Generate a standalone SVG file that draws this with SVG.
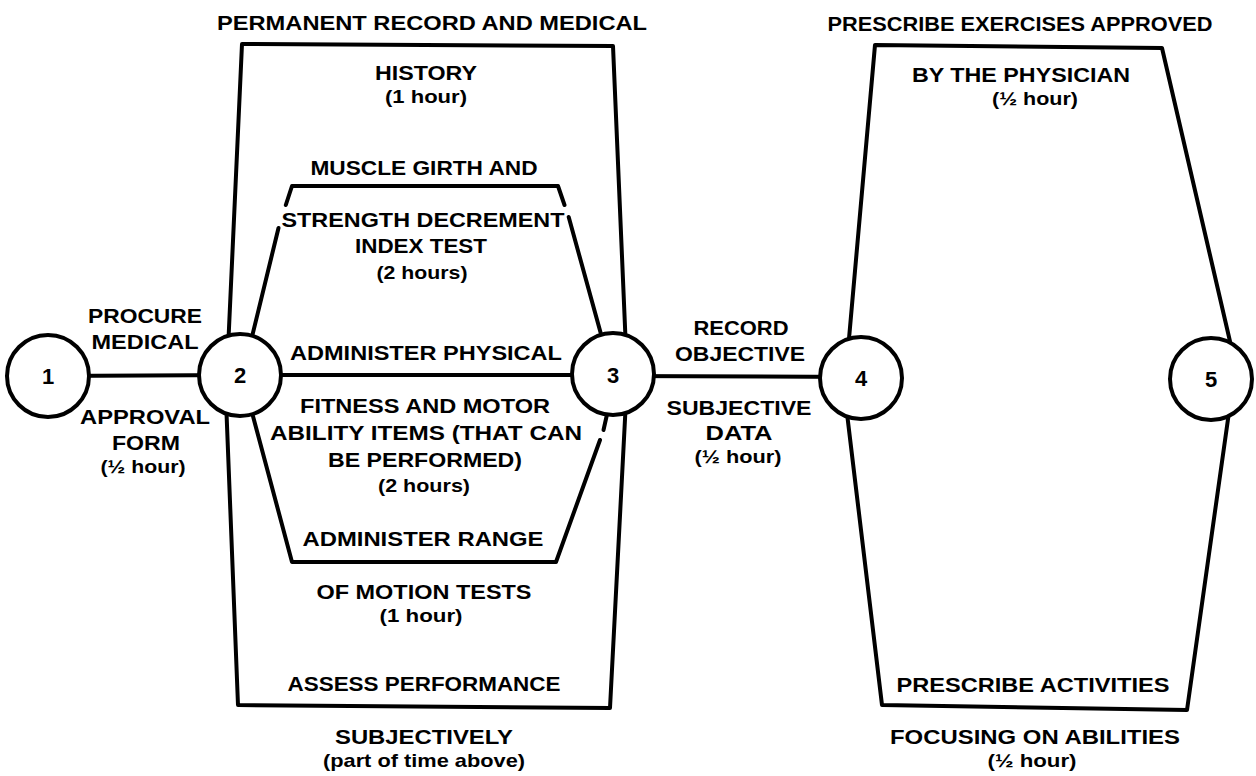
<svg xmlns="http://www.w3.org/2000/svg" width="1256" height="776" viewBox="0 0 1256 776">
  <style>
    .ln { fill: none; stroke: #000; stroke-width: 4; stroke-linejoin: round; stroke-linecap: round; }
    .node circle { fill: #fff; stroke: #000; stroke-width: 4; }
    .t { font-family: "Liberation Sans", Arial, sans-serif; font-weight: bold; font-size: 21px; fill: #000; text-anchor: middle; }
    .p { font-family: "Liberation Sans", Arial, sans-serif; font-weight: bold; font-size: 19px; fill: #000; text-anchor: middle; }
    .n { font-family: "Liberation Sans", Arial, sans-serif; font-weight: bold; font-size: 22px; fill: #000; text-anchor: middle; }
  </style>
  <rect width="1256" height="776" fill="#fff"/>

  <!-- activity arrows between events -->
  <g id="connectors">
    <!-- 1 to 2 -->
    <line class="ln" x1="48" y1="376" x2="240" y2="375"/>
    <!-- 2 to 3, direct -->
    <line class="ln" x1="240" y1="375" x2="613" y2="375"/>
    <!-- 3 to 4 -->
    <line class="ln" x1="613" y1="376" x2="861" y2="377"/>
    <!-- 2 to 3, outer upper path -->
    <path class="ln" d="M228 350 L242 44 L613 46 L626 350"/>
    <!-- 2 to 3, outer lower path -->
    <path class="ln" d="M226 400 L238 705 L610 708 L626 400"/>
    <!-- 2 to 3, inner upper path (broken round the text) -->
    <path class="ln" d="M250 345 L278.5 228"/>
    <path class="ln" d="M285.8 205 L292 186 L558 186 L564.5 205"/>
    <path class="ln" d="M568.7 217 L604 345"/>
    <!-- 2 to 3, inner lower path -->
    <path class="ln" d="M250 405 L292 562 L556 562 L600 440"/>
    <path class="ln" d="M603.5 430 L608 410"/>
    <!-- 4 to 5, upper path -->
    <path class="ln" d="M848 350 L875 45 L1162 48 L1232 350"/>
    <!-- 4 to 5, lower path -->
    <path class="ln" d="M846 405 L882 705 L1187 710 L1230 405"/>
  </g>

  <!-- events -->
  <g id="node1" class="node">
    <circle cx="48" cy="376" r="41"/>
    <text class="n" x="48" y="384">1</text>
  </g>
  <g id="node2" class="node">
    <circle cx="240" cy="375" r="41"/>
    <text class="n" x="240" y="383">2</text>
  </g>
  <g id="node3" class="node">
    <circle cx="613" cy="374" r="41"/>
    <text class="n" x="613" y="383">3</text>
  </g>
  <g id="node4" class="node">
    <circle cx="861" cy="378" r="41"/>
    <text class="n" x="861" y="386">4</text>
  </g>
  <g id="node5" class="node">
    <circle cx="1211" cy="379" r="41"/>
    <text class="n" x="1211" y="387">5</text>
  </g>

  <!-- activity labels -->
  <g id="label-procure">
    <text class="t" x="145" y="323" textLength="114" lengthAdjust="spacingAndGlyphs">PROCURE</text>
    <text class="t" x="145" y="349" textLength="107" lengthAdjust="spacingAndGlyphs">MEDICAL</text>
    <text class="t" x="145" y="424" textLength="130" lengthAdjust="spacingAndGlyphs">APPROVAL</text>
    <text class="t" x="146" y="450" textLength="68" lengthAdjust="spacingAndGlyphs">FORM</text>
    <text class="p" x="143" y="473" textLength="85" lengthAdjust="spacingAndGlyphs">(½ hour)</text>
  </g>

  <g id="label-history">
    <text class="t" x="432" y="30" textLength="430" lengthAdjust="spacingAndGlyphs">PERMANENT RECORD AND MEDICAL</text>
    <text class="t" x="426" y="80" textLength="102" lengthAdjust="spacingAndGlyphs">HISTORY</text>
    <text class="p" x="426" y="103" textLength="82" lengthAdjust="spacingAndGlyphs">(1 hour)</text>
  </g>

  <g id="label-strength">
    <text class="t" x="424" y="175" textLength="227" lengthAdjust="spacingAndGlyphs">MUSCLE GIRTH AND</text>
    <text class="t" x="423" y="227" textLength="283" lengthAdjust="spacingAndGlyphs">STRENGTH DECREMENT</text>
    <text class="t" x="421" y="253" textLength="132" lengthAdjust="spacingAndGlyphs">INDEX TEST</text>
    <text class="p" x="422" y="279" textLength="91" lengthAdjust="spacingAndGlyphs">(2 hours)</text>
  </g>

  <g id="label-physical">
    <text class="t" x="426" y="360" textLength="272" lengthAdjust="spacingAndGlyphs">ADMINISTER PHYSICAL</text>
    <text class="t" x="425" y="413" textLength="250" lengthAdjust="spacingAndGlyphs">FITNESS AND MOTOR</text>
    <text class="t" x="426" y="440" textLength="312" lengthAdjust="spacingAndGlyphs">ABILITY ITEMS (THAT CAN</text>
    <text class="t" x="425" y="467" textLength="194" lengthAdjust="spacingAndGlyphs">BE PERFORMED)</text>
    <text class="p" x="424" y="492" textLength="92" lengthAdjust="spacingAndGlyphs">(2 hours)</text>
  </g>

  <g id="label-range">
    <text class="t" x="423" y="546" textLength="241" lengthAdjust="spacingAndGlyphs">ADMINISTER RANGE</text>
    <text class="t" x="424" y="599" textLength="215" lengthAdjust="spacingAndGlyphs">OF MOTION TESTS</text>
    <text class="p" x="421" y="622" textLength="83" lengthAdjust="spacingAndGlyphs">(1 hour)</text>
  </g>

  <g id="label-assess">
    <text class="t" x="424" y="691" textLength="273" lengthAdjust="spacingAndGlyphs">ASSESS PERFORMANCE</text>
    <text class="t" x="424" y="744" textLength="178" lengthAdjust="spacingAndGlyphs">SUBJECTIVELY</text>
    <text class="p" x="424" y="767" textLength="202" lengthAdjust="spacingAndGlyphs">(part of time above)</text>
  </g>

  <g id="label-record">
    <text class="t" x="741" y="335" textLength="95" lengthAdjust="spacingAndGlyphs">RECORD</text>
    <text class="t" x="740" y="361" textLength="130" lengthAdjust="spacingAndGlyphs">OBJECTIVE</text>
    <text class="t" x="739" y="415" textLength="145" lengthAdjust="spacingAndGlyphs">SUBJECTIVE</text>
    <text class="t" x="739" y="440" textLength="67" lengthAdjust="spacingAndGlyphs">DATA</text>
    <text class="p" x="738" y="463" textLength="87" lengthAdjust="spacingAndGlyphs">(½ hour)</text>
  </g>

  <g id="label-exercises">
    <text class="t" x="1020" y="31" textLength="385" lengthAdjust="spacingAndGlyphs">PRESCRIBE EXERCISES APPROVED</text>
    <text class="t" x="1021" y="82" textLength="218" lengthAdjust="spacingAndGlyphs">BY THE PHYSICIAN</text>
    <text class="p" x="1035" y="105" textLength="86" lengthAdjust="spacingAndGlyphs">(½ hour)</text>
  </g>

  <g id="label-activities">
    <text class="t" x="1033" y="692" textLength="273" lengthAdjust="spacingAndGlyphs">PRESCRIBE ACTIVITIES</text>
    <text class="t" x="1035" y="744" textLength="290" lengthAdjust="spacingAndGlyphs">FOCUSING ON ABILITIES</text>
    <text class="p" x="1032" y="767" textLength="89" lengthAdjust="spacingAndGlyphs">(½ hour)</text>
  </g>
</svg>
